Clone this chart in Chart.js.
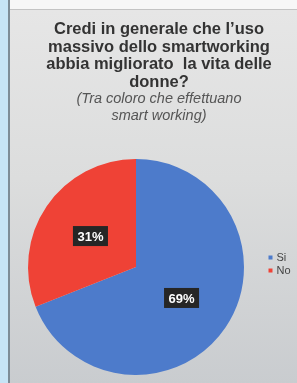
<!DOCTYPE html>
<html>
<head>
<meta charset="utf-8">
<script src="https://cdn.jsdelivr.net/npm/chart.js@4.4.0/dist/chart.umd.min.js"></script>
<style>
  html, body { margin: 0; padding: 0; }
  body { width: 297px; height: 383px; position: relative; overflow: hidden; background: #f7f7f7; }
  .strip { position: absolute; left: 0; top: 0; width: 8px; height: 383px; background: #c6e4f5; border-right: 2px solid #7d8c96; }
  .panel { position: absolute; left: 10px; top: 9px; width: 287px; height: 374px;
    border-top: 1px solid #c4c4c4;
    background: linear-gradient(to bottom, #e6e6e6 0%, #dcdddd 45%, #c9cccf 100%); }
  #wrap { position: absolute; left: 0; top: 0; width: 314px; height: 383px; }
</style>
</head>
<body>
<div class="strip"></div>
<div class="panel"></div>
<div id="wrap"><canvas id="pie"></canvas></div>
<script>
// dati
var categorie = ['Si', 'No'];
var valori = [69, 31];
var colori = ['#4d7bcb', '#ef4236'];

var titolo = ['Credi in generale che l\u2019uso', 'massivo dello smartworking', 'abbia migliorato  la vita delle', 'donne?'];
var sottotitolo = ['(Tra coloro che effettuano', 'smart working)'];

var FONT = '"Liberation Sans", Arial, sans-serif';

// legenda un po' più larga e alzata
var legendaFit = {
    id: 'legendaFit',
    beforeInit: function (chart) {
        var fit = chart.legend.fit;
        chart.legend.fit = function () {
            fit.call(this);
            this.width = 46;
            if (this.columnSizes && this.columnSizes[0]) this.columnSizes[0].height += 6;
        };
    }
};

// etichette percentuali nei box scuri
var etichette = {
    id: 'etichette',
    afterDatasetsDraw: function (chart) {
        var ctx = chart.ctx;
        var meta = chart.getDatasetMeta(0);
        var tot = valori.reduce(function (a, b) { return a + b; }, 0);
        ctx.save();
        ctx.font = 'bold 13px ' + FONT;
        ctx.textAlign = 'center';
        ctx.textBaseline = 'middle';
        meta.data.forEach(function (arc, i) {
            var p = arc.getProps(['x', 'y', 'startAngle', 'endAngle', 'outerRadius'], true);
            var mid = (p.startAngle + p.endAngle) / 2;
            var r = p.outerRadius * 0.51;
            var x = p.x + Math.cos(mid) * r;
            var y = p.y + Math.sin(mid) * r;
            var txt = Math.round(valori[i] / tot * 100) + '%';
            var w = ctx.measureText(txt).width + 9;
            ctx.fillStyle = '#262626';
            ctx.fillRect(x - w / 2, y - 10, w, 20);
            ctx.fillStyle = '#ffffff';
            ctx.fillText(txt, x, y + 1);
        });
        ctx.restore();
    }
};

var ctx = document.getElementById('pie').getContext('2d');
var chart = new Chart(ctx, {
    type: 'pie',
    data: {
        labels: categorie,
        datasets: [{
            data: valori,
            backgroundColor: colori,
            borderWidth: 0
        }]
    },
    options: {
        responsive: true,
        maintainAspectRatio: false,
        animation: false,
        layout: { padding: { left: 4, right: 0, top: 0, bottom: 8 } },
        plugins: {
            title: {
                display: true,
                text: titolo,
                color: '#333333',
                font: { family: FONT, size: 16.5, weight: 'bold', lineHeight: 1.06 },
                padding: { top: 21, bottom: 0 }
            },
            subtitle: {
                display: true,
                text: sottotitolo,
                color: '#555555',
                font: { family: FONT, size: 14.5, style: 'italic', lineHeight: 1.14 },
                padding: { top: 0, bottom: 35 }
            },
            legend: {
                position: 'right',
                fullSize: false,
                labels: {
                    usePointStyle: true,
                    pointStyle: 'rect',
                    boxWidth: 1,
                    boxHeight: 4,
                    padding: 2,
                    color: '#444444',
                    font: { family: FONT, size: 11 }
                }
            },
            tooltip: { enabled: false }
        }
    },
    plugins: [legendaFit, etichette]
});
</script>
</body>
</html>
